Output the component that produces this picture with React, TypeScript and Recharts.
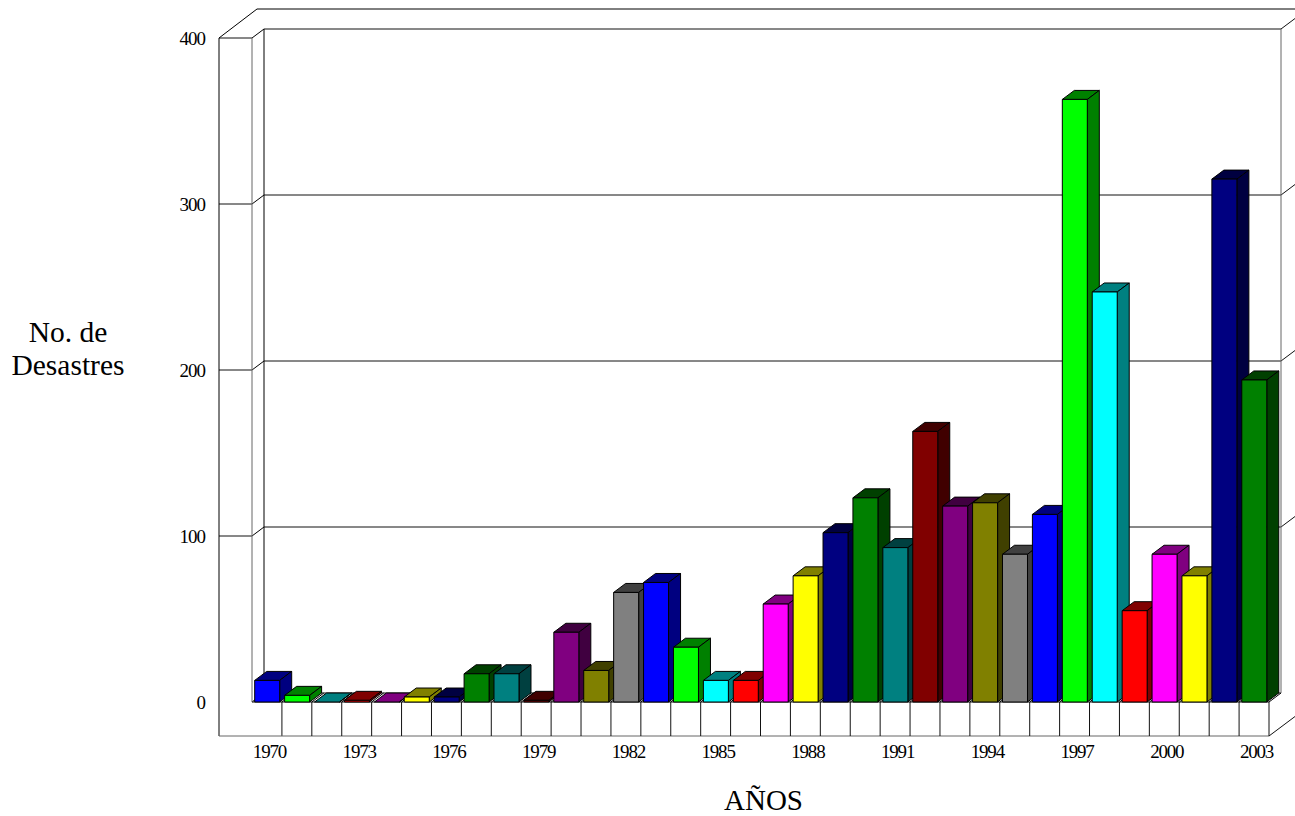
import React from 'react';
import { BarChart, Bar, XAxis, YAxis, CartesianGrid } from 'recharts';

const years = ['1970','1971','1972','1973','1974','1975','1976','1977','1978','1979','1980','1981','1982','1983','1984','1985','1986','1987','1988','1989','1990','1991','1992','1993','1994','1995','1996','1997','1998','1999','2000','2001','2002','2003'];
const disasters = [13,4,0,1,0,3,3,17,17,1,42,19,66,72,33,13,13,59,76,102,123,93,163,118,120,89,113,363,247,55,89,76,315,194];
const palette = ['#0000FF','#00FF00','#00FFFF','#FF0000','#FF00FF','#FFFF00','#000080','#008000','#008080','#800000','#800080','#808000','#808080'];
const yTicks = [0,100,200,300,400];
const labelledYears = years.filter((_, i) => i % 3 === 0);

const data = years.map((year, i) => ({ year, value: disasters[i], color: palette[i % palette.length] }));

const W = 1295, H = 816;
const PLOT_L = 252, PLOT_R = 1269, PLOT_T = 38, PLOT_B = 702;
const DX = 12, DY = 9;
const OUTER_L = 219, FLOOR_B = 736;
const SERIF = '"Liberation Serif", "Times New Roman", serif';
const LINE = '#111';
const LINE2 = '#666';

const darken = (hex: string) => {
  const n = parseInt(hex.slice(1), 16);
  const f = (v: number) => Math.round(v / 2);
  const r = f((n >> 16) & 255), g = f((n >> 8) & 255), b = f(n & 255);
  return `rgb(${r},${g},${b})`;
};

const Bar3D = (p: any) => {
  const { x, y, width: w, height: h, payload } = p;
  const front = payload.color;
  const dark = darken(front);
  const hh = Math.max(h, 0);
  return (
    <g stroke="#000" strokeWidth={1} strokeLinejoin="round">
      <polygon fill={dark} points={`${x},${y} ${x + DX},${y - DY} ${x + w + DX},${y - DY} ${x + w},${y}`} />
      <polygon fill={dark} points={`${x + w},${y} ${x + w + DX},${y - DY} ${x + w + DX},${y + hh - DY} ${x + w},${y + hh}`} />
      <rect x={x} y={y} width={w} height={hh} fill={front} />
    </g>
  );
};

const GridLine = (p: any) => {
  const y = p.y1;
  const slot = (PLOT_R - PLOT_L) / years.length;
  const isTop = Math.abs(y - PLOT_T) < 1;
  const isFloor = Math.abs(y - PLOT_B) < 1;
  return (
    <g key={p.key ?? y} fill="none" strokeWidth={1}>
      {!isFloor && <line x1={OUTER_L} y1={y} x2={PLOT_L} y2={y} stroke={LINE} />}
      <line x1={PLOT_L} y1={y} x2={PLOT_L + DX} y2={y - DY} stroke="#000" />
      <line x1={PLOT_L + DX} y1={y - DY} x2={PLOT_R + DX} y2={y - DY} stroke={LINE} />
      {!isFloor && <line x1={PLOT_R + DX} y1={y - DY} x2={W + 2} y2={y - DY - ((W + 2 - PLOT_R - DX) * DY) / DX} stroke={LINE} />}
      {isTop && (
        <g>
          <path d={`M${OUTER_L} ${PLOT_T} L${OUTER_L} ${FLOOR_B}`} stroke="#000" />
          <path d={`M${PLOT_L} ${PLOT_T} L${PLOT_L} ${PLOT_B}`} stroke={LINE2} />
          <path d={`M${PLOT_L + DX} ${PLOT_T - DY} L${PLOT_L + DX} ${PLOT_B - DY}`} stroke="#000" />
          <path d={`M${PLOT_R + DX} ${PLOT_T - DY} L${PLOT_R + DX} ${PLOT_B - DY}`} stroke={LINE2} />
          <path d={`M${OUTER_L} ${PLOT_T} L${OUTER_L + 38} ${PLOT_T - 29} L${W + 2} ${PLOT_T - 29}`} stroke="#000" />
        </g>
      )}
      {isFloor && (
        <g>
          {years.map((yr, i) => (
            <line key={yr} x1={PLOT_L + (i + 1) * slot} y1={y} x2={PLOT_L + (i + 1) * slot + DX} y2={y - DY} stroke="#000" />
          ))}
          <line x1={PLOT_L} y1={y} x2={PLOT_R} y2={y} stroke={LINE} />
          <line x1={PLOT_R} y1={FLOOR_B} x2={W + 2} y2={FLOOR_B - ((W + 2 - PLOT_R) * DY) / DX} stroke={LINE} />
        </g>
      )}
    </g>
  );
};

const YTick = (p: any) => (
  <text x={205} y={p.y} dy={7} textAnchor="end" fontFamily={SERIF} fontSize={19} letterSpacing={-1} fill="#000">
    {p.payload.value}
  </text>
);

const XTick = (p: any) => {
  const slot = (PLOT_R - PLOT_L) / years.length;
  const cx = p.payload.coordinate;
  const right = cx + slot / 2;
  return (
    <g>
      <line x1={right} y1={PLOT_B} x2={right} y2={FLOOR_B} stroke={LINE} />
      {p.index === 0 && <line x1={OUTER_L} y1={FLOOR_B} x2={PLOT_R} y2={FLOOR_B} stroke={LINE2} />}
      {labelledYears.includes(p.payload.value) && (
        <text x={cx + 2.5} y={758} textAnchor="middle" fontFamily={SERIF} fontSize={19} letterSpacing={-1.2} fill="#000">
          {p.payload.value}
        </text>
      )}
    </g>
  );
};

const YTitle = () => (
  <text fontFamily={SERIF} fontSize={29.5} fill="#000" textAnchor="middle">
    <tspan x={68} y={342}>No. de</tspan>
    <tspan x={68} y={375}>Desastres</tspan>
  </text>
);

const XTitle = () => (
  <text x={763.5} y={810} fontFamily={SERIF} fontSize={29} fill="#000" textAnchor="middle">AÑOS</text>
);

export default function App() {
  return (
    <div style={{ position: 'absolute', left: 0, top: 0, width: W, height: H, background: '#fff' }}>
      <BarChart
        width={W}
        height={H}
        data={data}
        margin={{ top: PLOT_T, right: W - PLOT_R, bottom: 0, left: 0 }}
        barCategoryGap={2.7}
      >
        <CartesianGrid vertical={false} horizontal={(p: any) => <GridLine {...p} />} />
        <XAxis
          dataKey="year"
          height={H - PLOT_B}
          interval={0}
          axisLine={false}
          tickLine={false}
          tick={(p: any) => <XTick {...p} />}
          label={{ content: () => <XTitle /> }}
        />
        <YAxis
          width={PLOT_L}
          domain={[0, 400]}
          ticks={yTicks}
          axisLine={false}
          tickLine={false}
          tick={(p: any) => <YTick {...p} />}
          label={{ content: () => <YTitle /> }}
        />
        <Bar dataKey="value" shape={(p: any) => <Bar3D {...p} />} isAnimationActive={false} />
      </BarChart>
    </div>
  );
}
